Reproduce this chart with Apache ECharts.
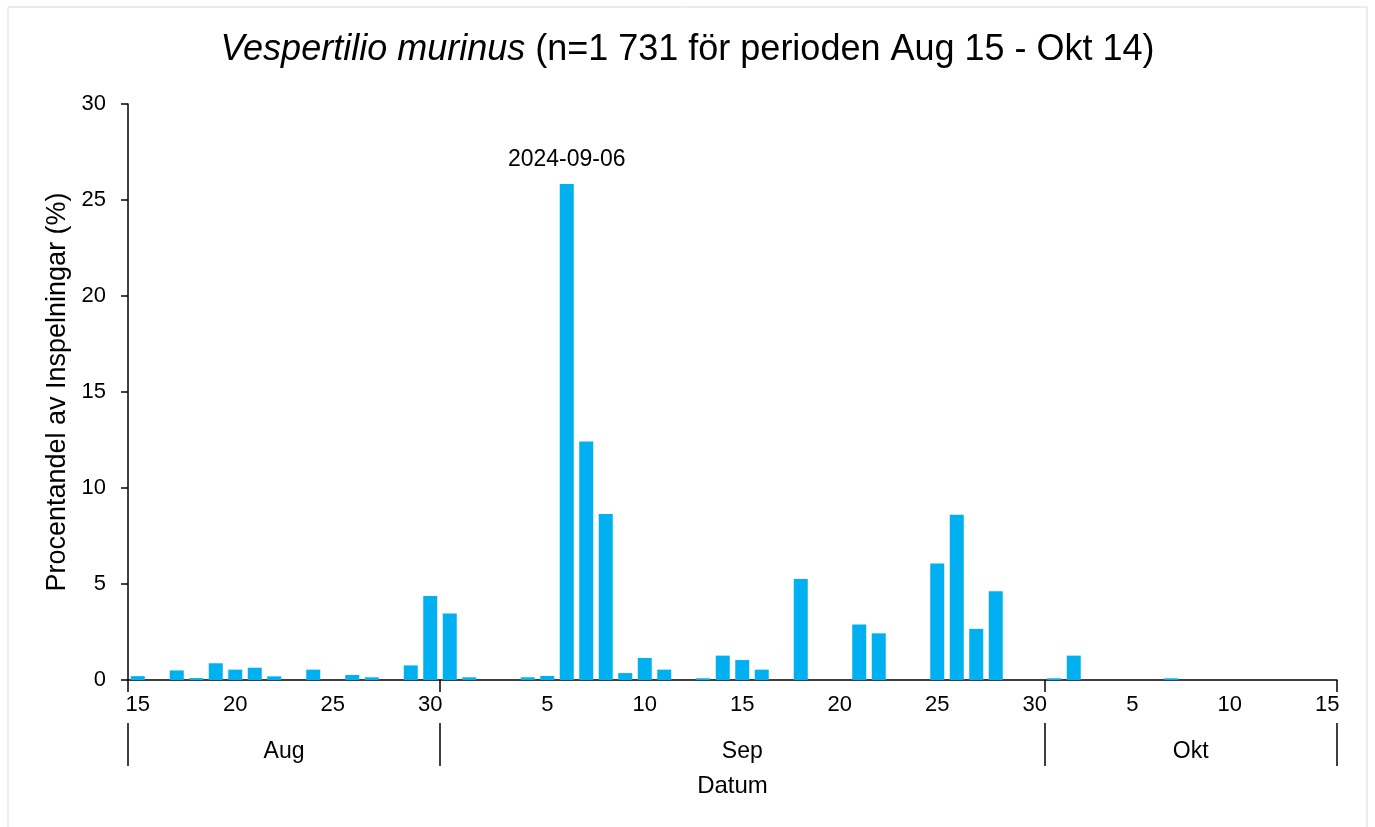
<!DOCTYPE html>
<html>
<head>
<meta charset="utf-8">
<script src="https://cdn.jsdelivr.net/npm/echarts@6/dist/echarts.min.js"></script>
<style>
  html, body { margin: 0; padding: 0; background: #fff; }
  #chart { width: 1375px; height: 827px; }
</style>
</head>
<body>
<div id="chart"></div>
<script>
// dag i månaden för varje stapel (Aug 15 - Okt 15)
const days = [
  15, 16, 17, 18, 19, 20, 21, 22, 23, 24, 25, 26, 27, 28, 29, 30, 31,
  1, 2, 3, 4, 5, 6, 7, 8, 9, 10, 11, 12, 13, 14, 15, 16, 17, 18, 19, 20,
  21, 22, 23, 24, 25, 26, 27, 28, 29, 30,
  1, 2, 3, 4, 5, 6, 7, 8, 9, 10, 11, 12, 13, 14, 15
]

// procent av inspelningar per dag
const percent = [
  0.2, 0, 0.5, 0.1, 0.87, 0.54, 0.64, 0.19, 0, 0.54, 0, 0.26, 0.14, 0, 0.76, 4.38, 3.47,
  0.14, 0, 0, 0.14, 0.21, 25.83, 12.42, 8.64, 0.36, 1.15, 0.54, 0, 0.09, 1.27, 1.04, 0.54, 0, 5.26, 0, 0,
  2.89, 2.43, 0, 0, 6.07, 8.61, 2.66, 4.62, 0, 0,
  0.09, 1.27, 0, 0, 0, 0, 0.09, 0, 0, 0, 0, 0, 0, 0, 0
]

// månadsgrupper på axeln (startindex och etikett)
const monthNames = ['Aug', 'Sep', 'Okt']
const monthStarts = [0, 16, 47]
const monthLabelAt = [8, 31, 54]

const yTicks = [0, 5, 10, 15, 20, 25, 30]

const peakIndex = 22
const peakLabel = '2024-09-06'

const font = 'Liberation Sans, Arial, sans-serif'
const chart = echarts.init(document.getElementById('chart'))

const isBoundary = (idx) => monthStarts.indexOf(idx) >= 0

const option = {
  animation: false,
  textStyle: { fontFamily: font, color: '#000' },
  title: {
    text: '{i|Vespertilio murinus}{n| (n=1 731 för perioden Aug 15 - Okt 14)}',
    left: 'center',
    top: 32,
    padding: 0,
    textStyle: {
      fontWeight: 'normal',
      rich: {
        i: { fontFamily: font, fontSize: 36, fontStyle: 'italic', fontWeight: 'normal', color: '#000' },
        n: { fontFamily: font, fontSize: 36, fontWeight: 'normal', color: '#000' }
      }
    }
  },
  graphic: [{
    type: 'rect',
    shape: { x: 8, y: 7, width: 1359, height: 840 },
    style: { fill: 'none', stroke: '#d9d9d9', lineWidth: 1 },
    silent: true
  }],
  grid: { left: 128, right: 38, top: 104, bottom: 147 },
  xAxis: [
    {
      type: 'category',
      data: days.map((d, i) => i),
      axisLine: { lineStyle: { color: '#000', width: 1.5 } },
      axisTick: { show: true, length: 12, interval: isBoundary, lineStyle: { color: '#000', width: 1.5 } },
      axisLabel: {
        interval: (idx) => days[idx] % 5 === 0,
        formatter: (v, idx) => String(days[idx]),
        fontSize: 22,
        color: '#000',
        margin: 14
      }
    },
    {
      type: 'category',
      position: 'bottom',
      offset: 43,
      data: days.map((d, i) => i),
      name: 'Datum',
      nameLocation: 'middle',
      nameGap: 51,
      nameTextStyle: { fontSize: 24, color: '#000' },
      axisLine: { show: false },
      axisTick: { show: true, length: 43, interval: isBoundary, lineStyle: { color: '#000', width: 1.5 } },
      axisLabel: {
        interval: (idx) => monthLabelAt.indexOf(idx) >= 0,
        formatter: (v, idx) => {
          const k = monthLabelAt.indexOf(idx)
          return k === 0 ? '{a|' + monthNames[k] + '}' : monthNames[k]
        },
        fontSize: 23,
        color: '#000',
        margin: 17,
        rich: { a: { fontSize: 23, color: '#000', padding: [0, 19.5, 0, 0] } }
      }
    }
  ],
  yAxis: {
    type: 'value',
    min: yTicks[0],
    max: yTicks[yTicks.length - 1],
    interval: 5,
    name: 'Procentandel av Inspelningar (%)',
    nameLocation: 'middle',
    nameGap: 56,
    nameTextStyle: { fontSize: 27, color: '#000' },
    axisLine: { show: true, lineStyle: { color: '#000', width: 1.5 } },
    axisTick: { show: true, length: 7, lineStyle: { color: '#000', width: 1.5 } },
    axisLabel: { fontSize: 22, color: '#000', margin: 22 },
    splitLine: { show: false }
  },
  series: [{
    type: 'bar',
    xAxisIndex: 0,
    barWidth: 14,
    itemStyle: { color: '#00b0f0' },
    data: percent.map((v, i) => i === peakIndex
      ? { value: v, label: { show: true, position: 'top', distance: 13, formatter: peakLabel, fontSize: 23, color: '#000' } }
      : v)
  }]
}

chart.setOption(option)
</script>
</body>
</html>
